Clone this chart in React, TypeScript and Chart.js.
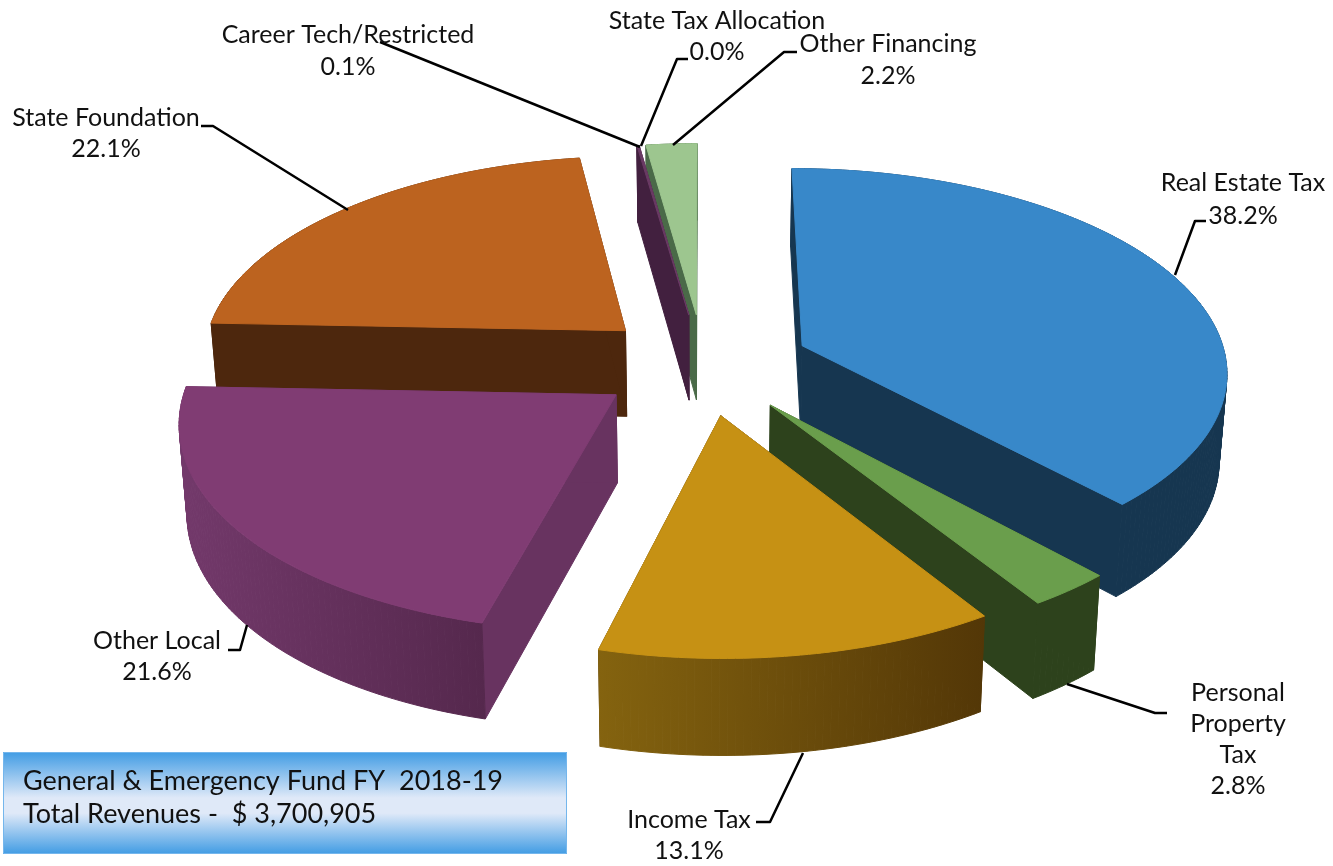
import React, { useEffect, useRef } from "react";
import Chart from "chart.js/auto";

const categories = ["Real Estate Tax", "Personal Property Tax", "Income Tax", "Other Local", "State Foundation", "Career Tech/Restricted", "State Tax Allocation", "Other Financing"];
const shares = [38.2, 2.8, 13.1, 21.6, 22.1, 0.1, 0.0, 2.2];
const topColors = ["#3888C9", "#6A9E4C", "#C69114", "#803C73", "#BC631F", "#6A3A64", "#7030A0", "#9DC68F"];
const cutColors = ["#163650", "#2D421C", "#533707", "#683360", "#4D270D", "#42203F", "#42203F", "#4A6A48"];
const wallLeft = ["#163650", "#2D421C", "#84630F", "#73396B", "#4D270D", "#42203F", "#42203F", "#4A6A48"];
const wallRight = ["#163650", "#2D421C", "#533707", "#55284D", "#4D270D", "#42203F", "#42203F", "#4A6A48"];

const labelLines = [
  ["Real Estate Tax", "38.2%"],
  ["Personal", "Property", "Tax", "2.8%"],
  ["Income Tax", "13.1%"],
  ["Other Local", "21.6%"],
  ["State Foundation", "22.1%"],
  ["Career Tech/Restricted", "0.1%"],
  ["State Tax Allocation", "0.0%"],
  ["Other Financing", "2.2%"],
];
const labelAnchors = [[1243, 183], [1238, 693], [689, 820], [157, 641], [106, 118], [348, 35], [717, 21], [888, 44]];
const labelSteps = [33, 31, 31, 31, 31, 32, 31, 32];
const leaders = [
  [[1175, 275], [1195, 221], [1206, 221]],
  [[1067, 684], [1155, 713], [1167, 713]],
  [[803, 753], [770, 822], [756, 822]],
  [[247, 625], [240, 650], [228, 650]],
  [[348, 210], [213, 126], [201, 126]],
  [[640, 147], [380, 42]],
  [[641, 146], [677, 59], [688, 59]],
  [[673, 145], [784, 52], [797, 52]],
];
const boxLines = ["General & Emergency Fund FY  2018-19", "Total Revenues -  $ 3,700,905"];

const FONT = '"Lato", "Open Sans", sans-serif';
const TILT = 0.4745;
const PERSPECTIVE = 0.116;
const EXPLODE = 107;
const DEPTH = 87;
const DEPTH_VAR = 8;
const BOTTOM_SHRINK = 0.985;

const pie3d = {
  id: "pie3d",
  beforeDatasetsDraw(chart: any) {
    const ctx: CanvasRenderingContext2D = chart.ctx;
    const arcs = chart.getDatasetMeta(0).data as any[];
    const project = (arc: any, ang: number, r: number, mid: number) => {
      const R = arc.outerRadius;
      const px = Math.cos(mid) * EXPLODE + Math.cos(ang) * r;
      const py = Math.sin(mid) * EXPLODE + Math.sin(ang) * r;
      const w = 1 - PERSPECTIVE * py / R;
      const sx = px / w;
      const sy = (TILT * py) / w;
      const top = [arc.x + sx, arc.y + sy];
      const bottom = [arc.x + sx * BOTTOM_SHRINK, arc.y + sy + DEPTH + DEPTH_VAR * py / R];
      return { top, bottom };
    };
    const trace = (pts: number[][], fill: any) => {
      ctx.beginPath();
      pts.forEach((p, i) => (i ? ctx.lineTo(p[0], p[1]) : ctx.moveTo(p[0], p[1])));
      ctx.closePath();
      ctx.fillStyle = fill;
      ctx.strokeStyle = fill;
      ctx.lineWidth = 1;
      ctx.lineJoin = "round";
      ctx.fill();
      ctx.stroke();
    };
    const order = arcs
      .map((a, i) => ({ a, i, mid: (a.startAngle + a.endAngle) / 2 }))
      .filter((o) => o.a.endAngle - o.a.startAngle > 1e-6)
      .sort((p, q) => Math.sin(p.mid) - Math.sin(q.mid));
    for (const { a, i, mid } of order) {
      const R = a.outerRadius;
      const n = Math.max(8, Math.ceil((a.endAngle - a.startAngle) * 60));
      const rim: any[] = [];
      for (let k = 0; k <= n; k++) {
        rim.push(project(a, a.startAngle + ((a.endAngle - a.startAngle) * k) / n, R, mid));
      }
      const apex = project(a, mid, 0, mid);
      const first = rim[0];
      const last = rim[n];
      // radial cut faces
      trace([apex.top, first.top, first.bottom, apex.bottom], cutColors[i]);
      trace([apex.top, last.top, last.bottom, apex.bottom], cutColors[i]);
      // rim wall, swept step by step under one horizontal shade
      const xs = rim.flatMap((p) => [p.top[0], p.bottom[0]]);
      const g = ctx.createLinearGradient(Math.min(...xs), 0, Math.max(...xs), 0);
      g.addColorStop(0, wallLeft[i]);
      g.addColorStop(1, wallRight[i]);
      for (let k = 0; k < n; k++) {
        trace([rim[k].top, rim[k + 1].top, rim[k + 1].bottom, rim[k].bottom], g);
      }
      // top face
      trace([apex.top, ...rim.map((p) => p.top)], topColors[i]);
    }
    return false;
  },
  afterDraw(chart: any) {
    const ctx: CanvasRenderingContext2D = chart.ctx;
    ctx.save();
    // leader lines
    ctx.strokeStyle = "#000";
    ctx.lineWidth = 2.5;
    ctx.lineJoin = "round";
    leaders.forEach((line) => {
      ctx.beginPath();
      line.forEach((p, i) => (i ? ctx.lineTo(p[0], p[1]) : ctx.moveTo(p[0], p[1])));
      ctx.stroke();
    });
    // labels
    ctx.fillStyle = "#111";
    ctx.font = `25px ${FONT}`;
    ctx.textAlign = "center";
    ctx.textBaseline = "middle";
    labelLines.forEach((lines, i) => {
      lines.forEach((t, j) => ctx.fillText(t, labelAnchors[i][0], labelAnchors[i][1] + j * labelSteps[i]));
    });
    // caption box
    const g = ctx.createLinearGradient(0, 752, 0, 854);
    g.addColorStop(0, "#419CE4");
    g.addColorStop(0.45, "#DFE9F8");
    g.addColorStop(0.6, "#DFE9F8");
    g.addColorStop(1, "#419CE4");
    ctx.fillStyle = g;
    ctx.fillRect(3, 752, 564, 102);
    ctx.strokeStyle = "#74B6EC";
    ctx.lineWidth = 1;
    ctx.strokeRect(3.5, 752.5, 563, 101);
    ctx.fillStyle = "#111";
    ctx.font = `27px ${FONT}`;
    ctx.textAlign = "left";
    boxLines.forEach((t, j) => ctx.fillText(t, 23, 781 + j * 33));
    ctx.restore();
  },
};

export default function App() {
  const ref = useRef<HTMLCanvasElement>(null);
  useEffect(() => {
    document.body.style.margin = "0";
    const chart = new Chart(ref.current!, {
      type: "pie",
      data: {
        labels: categories,
        datasets: [{ data: shares, backgroundColor: topColors, borderWidth: 0 }],
      },
      options: {
        responsive: false,
        animation: false,
        radius: 425,
        layout: { padding: { left: 74, bottom: 138 } },
        plugins: { legend: { display: false }, tooltip: { enabled: false }, title: { display: false } },
      } as any,
      plugins: [pie3d],
    });
    return () => chart.destroy();
  }, []);
  return (
    <div style={{ position: "absolute", left: 0, top: 0, width: 1333, height: 866, background: "#fff" }}>
      <canvas ref={ref} width={1333} height={866} style={{ display: "block" }} />
    </div>
  );
}
